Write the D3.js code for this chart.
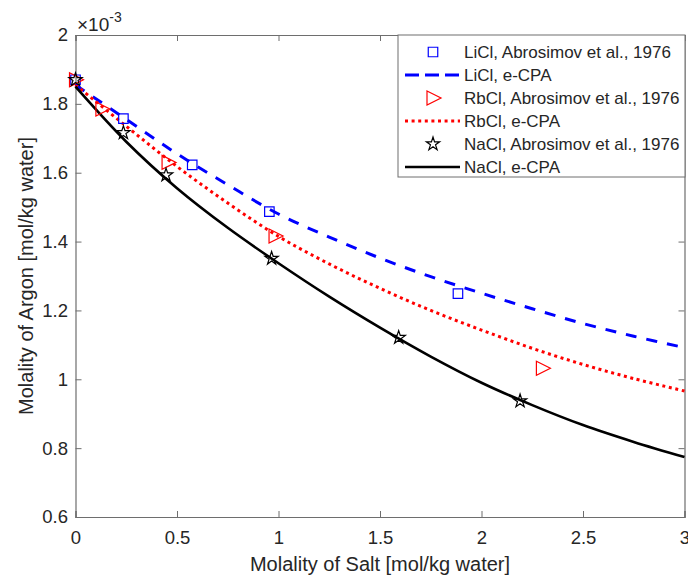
<!DOCTYPE html>
<html>
<head>
<meta charset="utf-8">
<script src="https://cdn.jsdelivr.net/npm/d3@7"></script>
<style>
  body { margin: 0; background: #fff; }
  text { font-family: "Liberation Sans", Arial, sans-serif; fill: #262626; }
</style>
</head>
<body>
<div id="chart"></div>
<script>
var svgWidth = 688;
var svgHeight = 576;

var margin = { top: 35, right: 4, bottom: 59, left: 75.5 };
var width = 684.5 - margin.left;
var height = 517 - margin.top;

// Experimental points (Abrosimov et al., 1976), argon molality in 1e-3 mol/kg
var liclX = [0, 0.236, 0.575, 0.955, 1.884];
var liclY = [1.870, 1.757, 1.623, 1.487, 1.249];
var rbclX = [0, 0.13, 0.456, 0.983, 2.30];
var rbclY = [1.870, 1.785, 1.630, 1.416, 1.032];
var naclX = [0, 0.236, 0.446, 0.966, 1.592, 2.19];
var naclY = [1.870, 1.716, 1.593, 1.351, 1.121, 0.937];

// e-CPA model curves
var modelX = [0, 0.25, 0.5, 0.75, 1, 1.25, 1.5, 1.75, 2, 2.25, 2.5, 2.75, 3];
var liclModel = [1.855, 1.755, 1.655, 1.565, 1.480, 1.413, 1.352, 1.298, 1.250, 1.205, 1.162, 1.125, 1.092];
var rbclModel = [1.855, 1.735, 1.618, 1.512, 1.415, 1.335, 1.264, 1.200, 1.143, 1.090, 1.043, 1.002, 0.966];
var naclModel = [1.850, 1.690, 1.555, 1.440, 1.337, 1.240, 1.150, 1.066, 0.990, 0.925, 0.867, 0.818, 0.774];

var xTicks = [0, 0.5, 1, 1.5, 2, 2.5, 3];
var yTicks = [0.6, 0.8, 1, 1.2, 1.4, 1.6, 1.8, 2];

var legendLabels = [
  "LiCl, Abrosimov et al., 1976",
  "LiCl, e-CPA",
  "RbCl, Abrosimov et al., 1976",
  "RbCl, e-CPA",
  "NaCl, Abrosimov et al., 1976",
  "NaCl, e-CPA"
];

var svg = d3.select("#chart")
  .append("svg")
  .attr("width", svgWidth)
  .attr("height", svgHeight);

var chartGroup = svg.append("g")
  .attr("transform", `translate(${margin.left}, ${margin.top})`);

var xScale = d3.scaleLinear().domain([0, 3]).range([0, width]);
var yScale = d3.scaleLinear().domain([0.6, 2]).range([height, 0]);

var axisColor = "#6e6e6e";
var fmt = d => String(+d.toFixed(1));

// axes with inward ticks, box on
var bottomAxis = d3.axisBottom(xScale).tickValues(xTicks).tickSize(-6).tickPadding(14).tickFormat(fmt);
var topAxis = d3.axisTop(xScale).tickValues(xTicks).tickSize(-6).tickFormat("");
var leftAxis = d3.axisLeft(yScale).tickValues(yTicks).tickSize(-6).tickPadding(7.5).tickFormat(fmt);
var rightAxis = d3.axisRight(yScale).tickValues(yTicks).tickSize(-6).tickFormat("");

function styleAxis(g) {
  g.select(".domain").attr("stroke", axisColor).attr("stroke-width", 1.2);
  g.selectAll(".tick line").attr("stroke", axisColor);
  g.selectAll(".tick text").style("font-size", "18.5px").attr("fill", "#262626");
}

chartGroup.append("g").attr("transform", `translate(0, ${height})`).call(bottomAxis).call(styleAxis);
chartGroup.append("g").call(topAxis).call(styleAxis);
chartGroup.append("g").call(leftAxis).call(styleAxis);
chartGroup.append("g").attr("transform", `translate(${width}, 0)`).call(rightAxis).call(styleAxis);

// model curves
var line = d3.line()
  .x(d => xScale(d[0]))
  .y(d => yScale(d[1]))
  .curve(d3.curveCatmullRom);

var lineStyles = [
  { data: liclModel, color: "#0000ff", dash: "11,10", width: 3 },
  { data: rbclModel, color: "#ff0000", dash: "3,3.6", width: 3 },
  { data: naclModel, color: "#000000", dash: null, width: 2.6 }
];

lineStyles.forEach(function(s) {
  chartGroup.append("path")
    .datum(modelX.map((x, i) => [x, s.data[i]]))
    .attr("d", line)
    .attr("fill", "none")
    .attr("stroke", s.color)
    .attr("stroke-width", s.width)
    .attr("stroke-dasharray", s.dash);
});

// marker shapes
var squareSym = d3.symbol().type(d3.symbolSquare).size(90);
var starSym = d3.symbol().type(d3.symbolStar).size(55);
var triPath = "M-6,-7L8,0L-6,7Z";

function drawMarkers(xs, ys, path, color) {
  chartGroup.selectAll(null)
    .data(xs.map((x, i) => [x, ys[i]]))
    .enter()
    .append("path")
    .attr("d", path)
    .attr("transform", d => `translate(${xScale(d[0])}, ${yScale(d[1])})`)
    .attr("fill", "none")
    .attr("stroke", color)
    .attr("stroke-width", 1.2);
}

drawMarkers(liclX, liclY, squareSym(), "#0000ff");
drawMarkers(rbclX, rbclY, triPath, "#ff0000");
drawMarkers(naclX, naclY, starSym(), "#000000");

// exponent label
var expo = svg.append("text")
  .attr("x", 77)
  .attr("y", 31)
  .style("font-size", "19px");
expo.append("tspan").text("\u00d710");
expo.append("tspan").attr("dy", -9).style("font-size", "14px").text("-3");

// axis labels
svg.append("text")
  .attr("transform", `translate(33, ${margin.top + height / 2}) rotate(-90)`)
  .attr("text-anchor", "middle")
  .style("font-size", "20px")
  .text("Molality of Argon [mol/kg water]");

svg.append("text")
  .attr("x", margin.left + width / 2)
  .attr("y", 571)
  .attr("text-anchor", "middle")
  .style("font-size", "20px")
  .text("Molality of Salt [mol/kg water]");

// legend
var legend = svg.append("g").attr("transform", "translate(398, 35)");
legend.append("rect")
  .attr("width", 287)
  .attr("height", 142)
  .attr("fill", "#fff")
  .attr("stroke", axisColor)
  .attr("stroke-width", 1);

legendLabels.forEach(function(label, i) {
  var cy = 17 + i * 23;
  var row = legend.append("g").attr("transform", `translate(0, ${cy})`);
  if (i % 2 === 0) {
    var shape = [squareSym(), triPath, starSym()][i / 2];
    var color = ["#0000ff", "#ff0000", "#000000"][i / 2];
    row.append("path")
      .attr("d", shape)
      .attr("transform", "translate(35, 0)")
      .attr("fill", "none")
      .attr("stroke", color)
      .attr("stroke-width", 1.2);
  } else {
    var s = lineStyles[(i - 1) / 2];
    row.append("line")
      .attr("x1", 7).attr("x2", 62)
      .attr("stroke", s.color)
      .attr("stroke-width", s.width)
      .attr("stroke-dasharray", s.dash === "11,10" ? "14,6" : s.dash);
  }
  row.append("text")
    .attr("x", 66)
    .attr("y", 6)
    .style("font-size", "17px")
    .text(label);
});
</script>
</body>
</html>
